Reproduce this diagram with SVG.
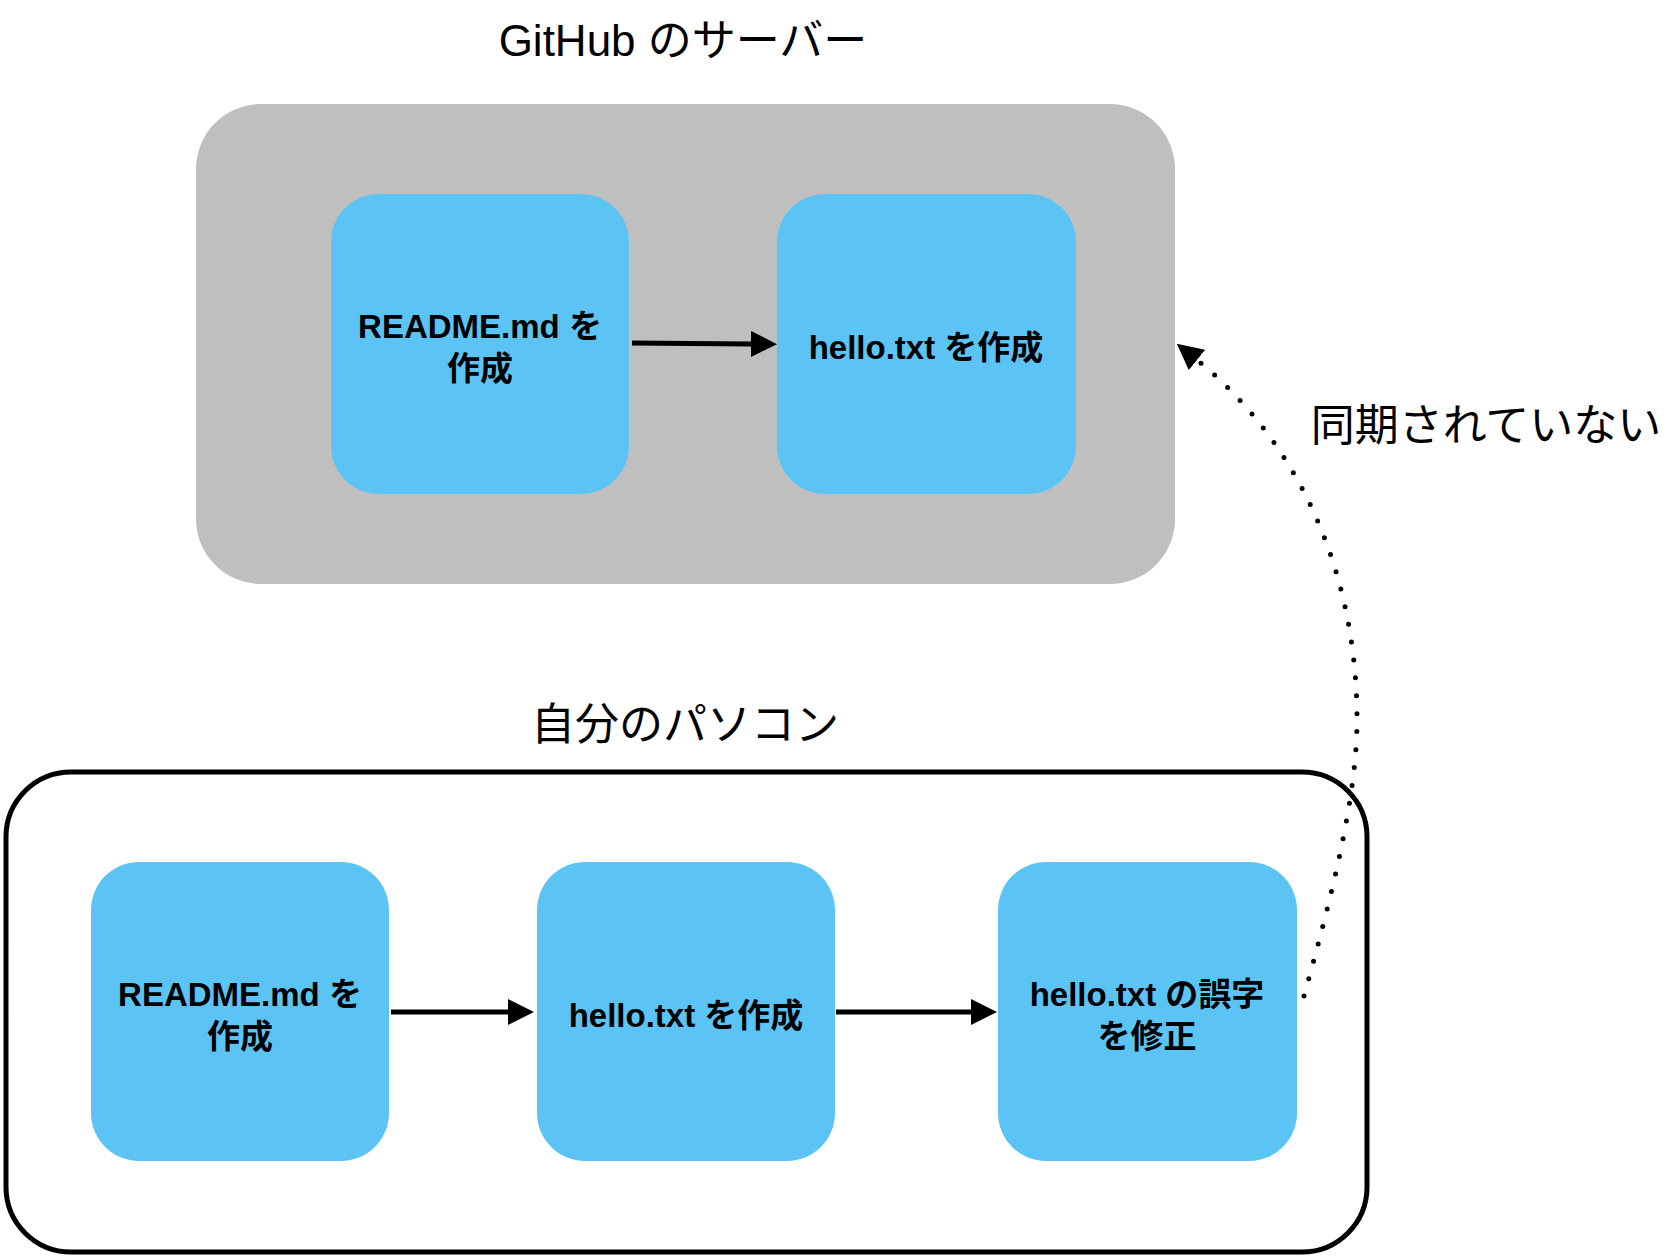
<svg xmlns="http://www.w3.org/2000/svg" width="1676" height="1258" viewBox="0 0 1676 1258">
<style>
.lbl{font-family:"Liberation Sans","Noto Sans CJK JP",sans-serif;font-size:44px;fill:#000;text-anchor:middle}
.nt{font-family:"Liberation Sans","Noto Sans CJK JP",sans-serif;font-size:33px;font-weight:bold;fill:#000;text-anchor:middle}
.box{fill:#5BC4F5}
.arr{fill:none;stroke:#000;stroke-width:5}
.dot{fill:none;stroke:#000;stroke-width:5;stroke-linecap:round;stroke-dasharray:0 18}
</style>
<defs>
<marker id="ah" markerUnits="userSpaceOnUse" markerWidth="26" markerHeight="26" viewBox="0 0 26 26" refX="0" refY="13" orient="auto">
<path d="M0,0 L26,13 L0,26 Z" fill="#000" stroke="none"/>
</marker>
</defs>
<rect width="1676" height="1258" fill="#fff"/>
<g id="server">
<rect x="196" y="104" width="979" height="480" rx="65" fill="#BFBFBF"/>
<text class="lbl" x="683" y="56">GitHub のサーバー</text>
</g>
<g id="pc">
<rect x="6" y="772" width="1361" height="480" rx="65" fill="#fff" stroke="#000" stroke-width="5"/>
<text class="lbl" x="685" y="740">自分のパソコン</text>
</g>
<g id="s1">
<rect class="box" x="331" y="194" width="298" height="300" rx="48"/>
<text class="nt" x="480" y="338">README.md を</text>
<text class="nt" x="480" y="380">作成</text>
</g>
<g id="s2">
<rect class="box" x="777" y="194" width="299" height="300" rx="48"/>
<text class="nt" x="926" y="359">hello.txt を作成</text>
</g>
<g id="p1">
<rect class="box" x="91" y="862" width="298" height="299" rx="48"/>
<text class="nt" x="240" y="1006">README.md を</text>
<text class="nt" x="240" y="1048">作成</text>
</g>
<g id="p2">
<rect class="box" x="537" y="862" width="298" height="299" rx="48"/>
<text class="nt" x="686" y="1027">hello.txt を作成</text>
</g>
<g id="p3">
<rect class="box" x="998" y="862" width="299" height="299" rx="48"/>
<text class="nt" x="1147" y="1006">hello.txt の誤字</text>
<text class="nt" x="1147" y="1048">を修正</text>
</g>
<g id="connectors">
<path class="arr" d="M632,343 L751,344" marker-end="url(#ah)"/>
<path class="arr" d="M391,1012 L508,1012" marker-end="url(#ah)"/>
<path class="arr" d="M836,1012 L971,1012" marker-end="url(#ah)"/>
<path class="dot" d="M1304,996 C1329,906 1357,800 1357,720 C1357,560 1290,435 1197,360" marker-end="url(#ah)"/>
<text class="lbl" x="1486" y="441">同期されていない</text>
</g>
</svg>
